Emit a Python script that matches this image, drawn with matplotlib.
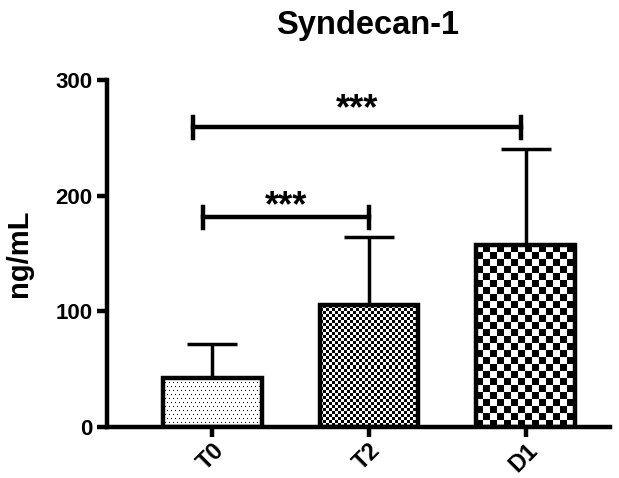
import numpy as np
import matplotlib
matplotlib.use("Agg")
import matplotlib.pyplot as plt
from matplotlib.transforms import offset_copy

categories = ["T0", "T2", "D1"]
means = [42, 105, 157]
sd_upper = [30, 59, 83]
yticks = [0, 100, 200, 300]
comparisons = [(0, 2, 259, "***"), (0, 1, 181, "***")]

plt.rcParams['font.family'] = ['Liberation Sans', 'DejaVu Sans']
plt.rcParams['font.weight'] = 'bold'

fig = plt.figure(figsize=(6.19, 4.78), dpi=100)
ax = fig.add_axes([0.173, 0.107, 0.812, 0.726])
ax.set_xlim(-0.67, 2.535)
ax.set_ylim(0, 300)

x = np.arange(len(categories))
width = 0.63
ax.errorbar(x, means, yerr=[np.zeros(3), sd_upper], fmt='none', ecolor='black',
            elinewidth=2.5, capsize=18, capthick=2.5, zorder=1)
bars = ax.bar(x, means, width=width, color='white', edgecolor='none', zorder=2)
ax.bar(x, means, width=width, fill=False, edgecolor='black', linewidth=3.2, zorder=4)
fig.canvas.draw()

def pattern(kind, nx, ny, cell):
    if kind == 'dots':
        arr = np.zeros((ny, nx))
        for r in range(0, ny, cell):
            off = 0 if (r // cell) % 2 == 0 else cell // 2
            for c in range(off, nx, cell):
                arr[r, c] = 1
        return arr
    yy, xx = np.mgrid[0:ny, 0:nx]
    return (((yy // cell) + (xx // cell)) % 2).astype(float)

kinds = [('dots', 4), ('check', 3), ('check', 7)]
for b, (kind, cell) in zip(bars, kinds):
    x0, y0 = b.get_x(), b.get_y()
    x1, y1 = x0 + b.get_width(), y0 + b.get_height()
    p0 = ax.transData.transform((x0, y0))
    p1 = ax.transData.transform((x1, y1))
    nx = int(round(abs(p1[0] - p0[0])))
    ny = int(round(abs(p1[1] - p0[1])))
    arr = pattern(kind, nx, ny, cell)
    im = ax.imshow(arr, cmap='gray_r', vmin=0, vmax=1, extent=(x0, x1, y0, y1),
                   interpolation='nearest', aspect='auto', zorder=3, origin='upper')
    im.set_clip_path(b)
ax.set_xlim(-0.67, 2.535)
ax.set_ylim(0, 300)

for spine in ['top', 'right']:
    ax.spines[spine].set_visible(False)
for spine in ['left', 'bottom']:
    ax.spines[spine].set_linewidth(3.2)
    ax.spines[spine].set_zorder(5)

ax.set_xticks(x)
ax.set_xticklabels(categories, rotation=45, ha='right', rotation_mode='anchor', fontsize=17, fontweight='bold')
ax.set_yticks(yticks)
ax.set_yticklabels([str(t) for t in yticks], fontsize=16, fontweight='bold')
ax.tick_params(axis='both', width=3.2, length=7, direction='out')
ax.tick_params(axis='x', pad=1.5)
ax.set_ylabel("ng/mL", fontsize=21, fontweight='bold', labelpad=16)
fig.suptitle("Syndecan-1", x=0.593, y=0.98, va='top', fontsize=23.5, fontweight='bold')

star_offsets_px = [0, -6.5]
for (i, j, h, lab), off in zip(comparisons, star_offsets_px):
    xi = i - 0.12 if j == 2 else i - 0.06
    xj = j - 0.03 if j == 2 else j
    ax.plot([xi, xj], [h, h], color='black', lw=3.2, clip_on=False, zorder=4)
    for xx in (xi, xj):
        ax.plot([xx, xx], [h - 9, h + 9], color='black', lw=3.2, clip_on=False, zorder=4)
    tr = offset_copy(ax.transData, fig=fig, x=0, y=off, units='dots')
    ax.text((xi + xj) / 2, h, lab, ha='center', va='bottom', fontsize=26,
            fontweight='bold', transform=tr)

fig.savefig("out.png", dpi=100)
